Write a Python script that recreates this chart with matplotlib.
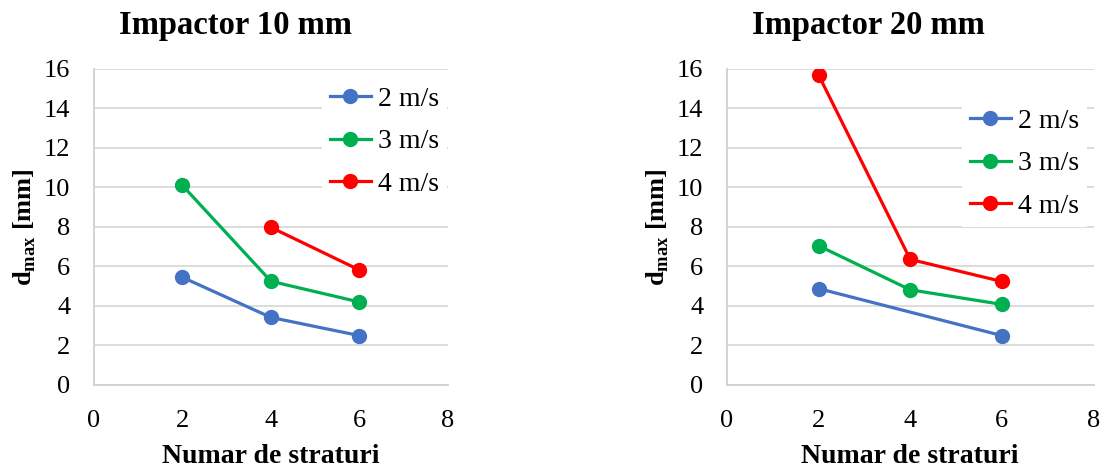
import matplotlib.pyplot as plt

plt.rcParams['font.family'] = ['Liberation Serif', 'DejaVu Serif']
plt.rcParams['mathtext.fontset'] = 'custom'
plt.rcParams['mathtext.rm'] = 'Liberation Serif'
plt.rcParams['mathtext.bf'] = 'Liberation Serif:bold'

# Data
labels = ['2 m/s', '3 m/s', '4 m/s']
colors = ['#4472C4', '#00B050', '#FF0000']
x_ticks = [0, 2, 4, 6, 8]
y_ticks = [0, 2, 4, 6, 8, 10, 12, 14, 16]

# Impactor 10 mm
x10_v2 = [2, 4, 6]
y10_v2 = [5.45, 3.42, 2.5]
x10_v3 = [2, 4, 6]
y10_v3 = [10.1, 5.25, 4.2]
x10_v4 = [4, 6]
y10_v4 = [7.98, 5.82]

# Impactor 20 mm
x20_v2 = [2, 6]
y20_v2 = [4.88, 2.5]
x20_v3 = [2, 4, 6]
y20_v3 = [7.05, 4.82, 4.08]
x20_v4 = [2, 4, 6]
y20_v4 = [15.7, 6.36, 5.24]

FS = 19

fig = plt.figure(figsize=(11.08, 4.71), dpi=100)
ax1 = fig.add_axes([0.0848, 0.1826, 0.3195, 0.671])
ax2 = fig.add_axes([0.656, 0.1826, 0.331, 0.671])


def style(ax, series, title, title_x, leg_anchor):
    for (xs, ys), lab, c in zip(series, labels, colors):
        ax.plot(xs, ys, color=c, lw=2.3, marker='o', ms=10, label=lab, zorder=3)
    ax.set_xlim(0, 8)
    ax.set_ylim(0, 16)
    ax.set_xticks(x_ticks)
    ax.set_xticklabels([str(v) for v in x_ticks], fontsize=FS, family='Liberation Serif')
    ax.set_yticks(y_ticks)
    ax.set_yticklabels([str(v) for v in y_ticks], fontsize=FS, family='Liberation Serif')
    ax.tick_params(axis='x', length=0, pad=18)
    ax.tick_params(axis='y', length=0, pad=17)
    ax.grid(axis='y', color='#D9D9D9', lw=1.3)
    ax.set_axisbelow(True)
    for s in ['top', 'right']:
        ax.spines[s].set_visible(False)
    for s in ['left', 'bottom']:
        ax.spines[s].set_color('#D0D0D0')
        ax.spines[s].set_linewidth(1.3)
    ax.set_xlabel('Numar de straturi', fontsize=20, fontweight='bold', labelpad=9)
    ax.set_ylabel(r'$\mathbf{d}_{\mathbf{max}}$ [mm]', fontsize=FS, fontweight='bold', labelpad=4)
    fig.text(title_x, 0.945, title, ha='center', va='center', fontsize=23.5, fontweight='bold')
    leg = ax.legend(loc='upper left', bbox_to_anchor=leg_anchor, bbox_transform=fig.transFigure,
                    fontsize=20, frameon=True, fancybox=False, edgecolor='white', framealpha=1,
                    handlelength=1.45, handletextpad=0.25, labelspacing=0.62, borderpad=0.3,
                    borderaxespad=0)
    leg.get_frame().set_linewidth(0)


style(ax1, [(x10_v2, y10_v2), (x10_v3, y10_v3), (x10_v4, y10_v4)],
      'Impactor 10 mm', 235 / 1108, (322 / 1108, 1 - 78 / 471))
style(ax2, [(x20_v2, y20_v2), (x20_v3, y20_v3), (x20_v4, y20_v4)],
      'Impactor 20 mm', 868 / 1108, (962 / 1108, 1 - 100 / 471))

fig.savefig('out.png', dpi=100)
